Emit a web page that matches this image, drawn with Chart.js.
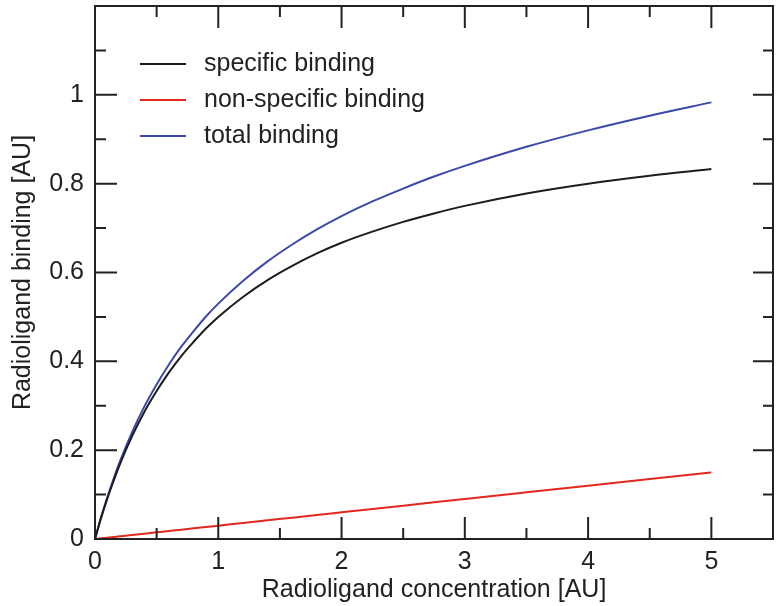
<!DOCTYPE html>
<html>
<head>
<meta charset="utf-8">
<script src="https://cdn.jsdelivr.net/npm/chart.js@4"></script>
<style>
  html, body { margin: 0; padding: 0; background: #fff; }
  #wrap { width: 776px; height: 606px; }
</style>
</head>
<body>
<div id="wrap"><canvas id="chart" width="776" height="606"></canvas></div>
<script>
const concentration = [0, 0.05, 0.1, 0.15, 0.2, 0.3, 0.4, 0.5, 0.6, 0.7, 0.8, 0.9, 1, 1.2, 1.4, 1.6, 1.8, 2, 2.25, 2.5, 2.75, 3, 3.5, 4, 4.5, 5];
const specificBinding = [0, 0.048, 0.091, 0.130, 0.167, 0.231, 0.286, 0.333, 0.375, 0.412, 0.444, 0.474, 0.5, 0.545, 0.583, 0.615, 0.643, 0.667, 0.692, 0.714, 0.733, 0.75, 0.778, 0.8, 0.818, 0.833];
const nonSpecificBinding = [0, 0.0015, 0.003, 0.0045, 0.006, 0.009, 0.012, 0.015, 0.018, 0.021, 0.024, 0.027, 0.03, 0.036, 0.042, 0.048, 0.054, 0.06, 0.0675, 0.075, 0.0825, 0.09, 0.105, 0.12, 0.135, 0.15];
const totalBinding = [0, 0.050, 0.094, 0.135, 0.173, 0.240, 0.298, 0.348, 0.393, 0.433, 0.468, 0.501, 0.53, 0.581, 0.625, 0.663, 0.697, 0.727, 0.760, 0.789, 0.816, 0.84, 0.883, 0.92, 0.953, 0.983];

const seriesNames = ["specific binding", "non-specific binding", "total binding"];
const seriesColors = ["#1c1c1c", "#e2281c", "#3c48aa"];

const xMajorTicks = [0, 1, 2, 3, 4, 5];
const xMinorTicks = [0.5, 1.5, 2.5, 3.5, 4.5];
const yMajorTicks = [0, 0.2, 0.4, 0.6, 0.8, 1];
const yMinorTicks = [0.1, 0.3, 0.5, 0.7, 0.9, 1.1];

const FONT = "'Liberation Sans', Arial, Helvetica, sans-serif";
const INK = "#222";

function points(ys) {
  return concentration.map((x, i) => ({ x: x, y: ys[i] }));
}

// frame, inward ticks on all four sides, legend inside the plot
const framePlugin = {
  id: "frame",
  afterDraw(chart) {
    const ctx = chart.ctx;
    const a = chart.chartArea;
    const xs = chart.scales.x, ys = chart.scales.y;
    ctx.save();
    ctx.strokeStyle = INK;
    ctx.lineWidth = 2;
    ctx.strokeRect(a.left, a.top, a.right - a.left, a.bottom - a.top);

    ctx.beginPath();
    const xt = (vals, len) => vals.forEach((v) => {
      const px = xs.getPixelForValue(v);
      ctx.moveTo(px, a.bottom); ctx.lineTo(px, a.bottom - len);
      ctx.moveTo(px, a.top); ctx.lineTo(px, a.top + len);
    });
    const yt = (vals, len, lenR) => vals.forEach((v) => {
      const py = ys.getPixelForValue(v);
      ctx.moveTo(a.left, py); ctx.lineTo(a.left + len, py);
      ctx.moveTo(a.right, py); ctx.lineTo(a.right - lenR, py);
    });
    xt(xMajorTicks, 22);
    xt(xMinorTicks, 11);
    yt(yMajorTicks, 22, 20);
    yt(yMinorTicks, 11, 10);
    ctx.stroke();

    // legend
    ctx.font = "25px " + FONT;
    ctx.textBaseline = "middle";
    ctx.textAlign = "left";
    chart.data.datasets.forEach((ds, i) => {
      const y = a.top + 58 + i * 36;
      ctx.strokeStyle = ds.borderColor;
      ctx.lineWidth = 2;
      ctx.beginPath();
      ctx.moveTo(a.left + 45, y);
      ctx.lineTo(a.left + 91, y);
      ctx.stroke();
      ctx.fillStyle = INK;
      ctx.fillText(ds.label, a.left + 109, y);
    });
    ctx.restore();
  },
};

const seriesData = [specificBinding, nonSpecificBinding, totalBinding];

new Chart(document.getElementById("chart"), {
  type: "line",
  data: {
    datasets: seriesData.map((ys, i) => ({
      label: seriesNames[i],
      data: points(ys),
      borderColor: seriesColors[i],
      borderWidth: 2,
      pointRadius: 0,
      fill: false,
      cubicInterpolationMode: "monotone",
    })),
  },
  options: {
    responsive: false,
    animation: false,
    layout: { padding: { top: 6, right: 3, left: 0, bottom: 0 } },
    plugins: { legend: { display: false }, tooltip: { enabled: false } },
    scales: {
      x: {
        type: "linear",
        min: 0,
        max: 5.5,
        grid: { display: false, drawTicks: false },
        border: { display: false },
        ticks: {
          stepSize: 1,
          includeBounds: false,
          padding: 8,
          color: INK,
          font: { family: FONT, size: 25 },
          callback: (v) => (Number.isInteger(v) ? v : ""),
        },
        title: {
          display: true,
          text: "Radioligand concentration [AU]",
          color: INK,
          font: { family: FONT, size: 25 },
          padding: { top: 0, bottom: 1 },
        },
        afterFit(scale) { scale.height = 67; },
      },
      y: {
        min: 0,
        max: 1.2,
        grid: { display: false, drawTicks: false },
        border: { display: false },
        ticks: {
          stepSize: 0.2,
          padding: 11,
          color: INK,
          font: { family: FONT, size: 25 },
          callback: (v) => (v > 1.05 ? "" : Math.round(v * 10) / 10),
        },
        title: {
          display: true,
          text: "Radioligand binding [AU]",
          color: INK,
          font: { family: FONT, size: 25 },
          padding: { top: 8, bottom: 0 },
        },
        afterFit(scale) {
          scale.width = 95;
          scale.paddingTop = 0;
          scale.paddingBottom = 0;
        },
      },
    },
  },
  plugins: [framePlugin],
});
</script>
</body>
</html>
